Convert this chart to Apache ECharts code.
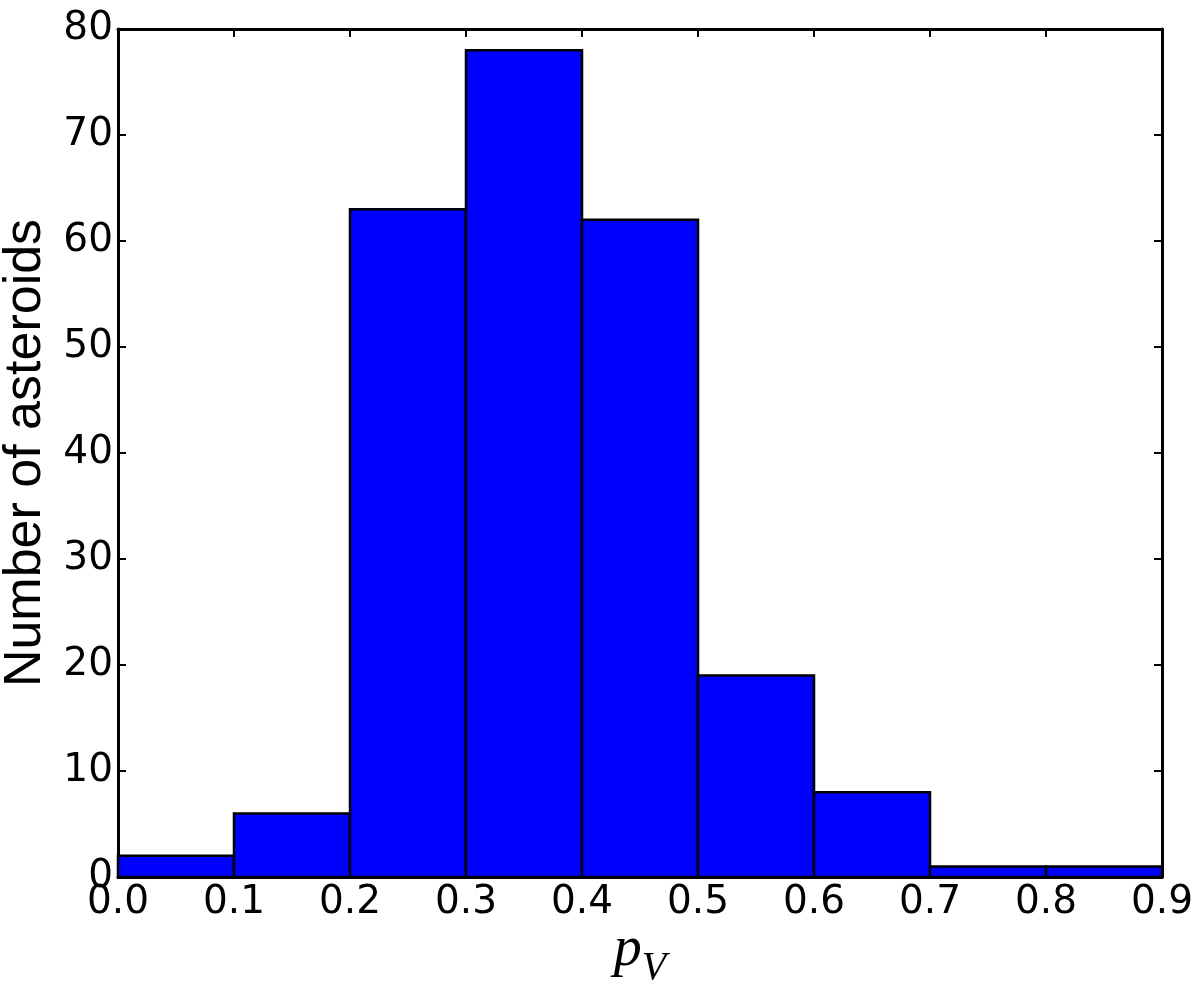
<!DOCTYPE html>
<html>
<head>
<meta charset="utf-8">
<script src="https://cdn.jsdelivr.net/npm/echarts@6/dist/echarts.min.js"></script>
<style>
  html, body { margin: 0; padding: 0; background: #fff; }
</style>
</head>
<body>
<div id="main" style="width: 1200px; height: 984px"></div>
<script>
// histogram bins of albedo p_V
var binLeft  = [0.0, 0.1, 0.2, 0.3, 0.4, 0.5, 0.6, 0.7, 0.8];
var binRight = [0.1, 0.2, 0.3, 0.4, 0.5, 0.6, 0.7, 0.8, 0.9];
var counts   = [2, 6, 63, 78, 62, 19, 8, 1, 1];

var chart = echarts.init(document.getElementById('main'));

var bins = [];
for (var i = 0; i < counts.length; ++i) {
  bins.push([binLeft[i], binRight[i], counts[i]]);
}

var tickFont = { fontFamily: 'DejaVu Sans', fontSize: 39, color: '#000' };
var frameLine = { show: true, onZero: false, lineStyle: { color: '#000', width: 3 } };
var inTick = { show: true, inside: true, length: 8, lineStyle: { color: '#000', width: 2 } };

var option = {
  animation: false,
  backgroundColor: '#fff',
  grid: { left: 118, right: 38, top: 29, bottom: 107, containLabel: false, outerBoundsMode: 'none' },
  xAxis: [
    {
      type: 'value',
      min: 0, max: 0.9, interval: 0.1,
      position: 'bottom',
      axisLine: frameLine,
      axisTick: inTick,
      splitLine: { show: false },
      axisLabel: Object.assign({
        margin: 6,
        formatter: function (v) { return v.toFixed(1); }
      }, tickFont),
      name: '{p|p}{v|V}',
      nameLocation: 'middle',
      nameGap: 41,
      nameMoveOverlap: false,
      nameTextStyle: {
        rich: {
          p: { fontFamily: 'Liberation Serif', fontStyle: 'italic', fontSize: 56, color: '#000', verticalAlign: 'bottom', lineHeight: 60 },
          v: { fontFamily: 'Liberation Serif', fontStyle: 'italic', fontSize: 40, color: '#000', verticalAlign: 'bottom', lineHeight: 60, padding: [0, 0, -10, 0] }
        }
      }
    },
    {
      type: 'value',
      min: 0, max: 0.9, interval: 0.1,
      position: 'top',
      axisLine: frameLine,
      axisTick: inTick,
      splitLine: { show: false },
      axisLabel: { show: false }
    }
  ],
  yAxis: [
    {
      type: 'value',
      min: 0, max: 80, interval: 10,
      position: 'left',
      axisLine: frameLine,
      axisTick: inTick,
      splitLine: { show: false },
      axisLabel: Object.assign({ margin: 5 }, tickFont),
      name: 'Number of asteroids',
      nameLocation: 'middle',
      nameRotate: 90,
      nameGap: 66,
      nameMoveOverlap: false,
      nameTextStyle: { fontFamily: 'Liberation Sans', fontSize: 52, color: '#000' }
    },
    {
      type: 'value',
      min: 0, max: 80, interval: 10,
      position: 'right',
      axisLine: frameLine,
      axisTick: inTick,
      splitLine: { show: false },
      axisLabel: { show: false }
    }
  ],
  series: [
    {
      type: 'custom',
      xAxisIndex: 0,
      yAxisIndex: 0,
      encode: { x: [0, 1], y: 2 },
      data: bins,
      renderItem: function (params, api) {
        var topLeft = api.coord([api.value(0), api.value(2)]);
        var bottomRight = api.coord([api.value(1), 0]);
        return {
          type: 'rect',
          shape: {
            x: topLeft[0],
            y: topLeft[1],
            width: bottomRight[0] - topLeft[0],
            height: bottomRight[1] - topLeft[1]
          },
          style: { fill: '#0000ff', stroke: '#000', lineWidth: 2.5 }
        };
      }
    }
  ]
};

chart.setOption(option);
</script>
</body>
</html>
